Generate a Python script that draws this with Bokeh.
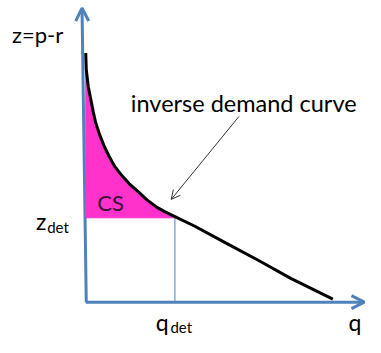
from bokeh.plotting import figure
from bokeh.models import Arrow, OpenHead, Range1d
from bokeh.core.properties import value
from bokeh.embed import file_html
from bokeh.resources import INLINE

# inverse demand curve (q, z)
curve_q = [0.0, 0.02, 0.10, 0.30, 0.40, 0.55, 0.73, 0.94, 1.17, 1.45, 1.75, 2.09,
           2.46, 2.86, 3.19, 3.58, 4.38, 5.69, 6.96, 8.23, 9.92]
curve_z = [10.04, 9.38, 8.69, 7.67, 7.23, 6.77, 6.31, 5.87, 5.46, 5.10, 4.77, 4.46,
           4.12, 3.82, 3.64, 3.45, 3.06, 2.35, 1.67, 0.96, 0.12]
q_det = 3.58
z_det = 3.40

FONT = value("Lato")

p = figure(width=365, height=337, output_backend="svg", toolbar_location=None,
           x_range=Range1d(-3.423, 11.231), y_range=Range1d(-1.423, 12.154),
           min_border=0, outline_line_color=None)
p.axis.visible = False
p.grid.visible = False

axis_color = "#4F81BD"
# axes with arrowheads
p.add_layout(Arrow(end=OpenHead(size=13, line_color=axis_color, line_width=3),
                   x_start=0.02, y_start=0, x_end=-0.15, y_end=11.85,
                   line_color=axis_color, line_width=3, level="underlay"))
p.add_layout(Arrow(end=OpenHead(size=13, line_color=axis_color, line_width=3),
                   x_start=0.0, y_start=0, x_end=11.19, y_end=0,
                   line_color=axis_color, line_width=3, level="underlay"))

# consumer surplus area
k = sum(1 for q in curve_q if q <= q_det)
cs_x = [0.0] + curve_q[:k] + [q_det]
cs_y = [z_det] + curve_z[:k] + [z_det]
p.patch(cs_x, cs_y, fill_color="#FF33CC", line_color="#FF33CC", line_width=1)

# q_det drop line
p.segment(x0=[q_det], y0=[0], x1=[q_det], y1=[z_det], line_color=axis_color, line_width=1)

# demand curve
p.line(curve_q, curve_z, line_color="black", line_width=3, line_join="round")

# callout arrow
p.add_layout(Arrow(end=OpenHead(size=9, line_color="#333333", line_width=1),
                   x_start=6.15, y_start=7.48, x_end=3.43, y_end=4.14,
                   line_color="#333333", line_width=1))

def label(x, y, t, size, color="black"):
    p.text(x=[x], y=[y], text=[t], text_font=FONT, text_font_size=size,
           text_color=color, text_baseline="alphabetic", text_align="left")

label(-2.96, 10.77, "z=p-r", "22px")
label(1.81, 8.04, "inverse demand curve", "23.5px")
label(0.46, 4.0, "CS", "22px", "#3B1038")
label(-2.0, 3.27, "z", "23px")
label(-1.55, 3.04, "det", "15px")
label(2.81, -0.80, "q", "23px")
label(3.40, -1.00, "det", "15px")
label(10.55, -0.80, "q", "23px")

open("out.html", "w").write(file_html(p, INLINE))
